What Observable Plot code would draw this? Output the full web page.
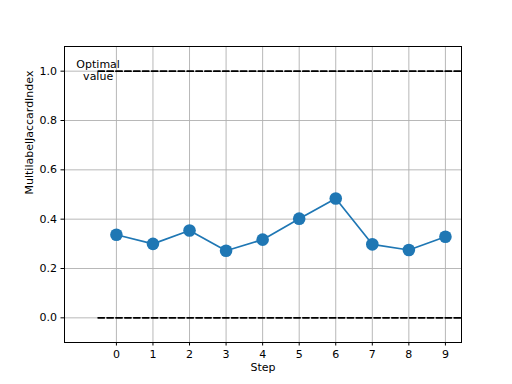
<!DOCTYPE html>
<html>
<head>
<meta charset="utf-8">
<script src="https://cdn.jsdelivr.net/npm/d3@7"></script>
<script src="https://cdn.jsdelivr.net/npm/@observablehq/plot@0.6"></script>
<style>
  html, body { margin: 0; padding: 0; background: #fff; }
  svg { display: block; }
</style>
</head>
<body>
<div id="chart"></div>
<script>
const steps = [0, 1, 2, 3, 4, 5, 6, 7, 8, 9];
const scores = [0.337, 0.300, 0.354, 0.272, 0.317, 0.402, 0.484, 0.298, 0.275, 0.329];
const optimalValue = 1.0;
const baselineValue = 0.0;
const refLineX = [-0.5, 9.5];
const xTicks = [0, 1, 2, 3, 4, 5, 6, 7, 8, 9];
const yTicks = [0.0, 0.2, 0.4, 0.6, 0.8, 1.0];
const xLabel = "Step";
const yLabel = "MultilabelJaccardIndex";
const annotation = "Optimal\nvalue";

const data = steps.map((s, i) => ({step: s, value: scores[i]}));
const refLines = [optimalValue, baselineValue].flatMap(v => refLineX.map(x => ({x, y: v, key: v})));

const chart = Plot.plot({
  width: 512,
  height: 384,
  marginLeft: 64,
  marginRight: 51,
  marginTop: 46,
  marginBottom: 42,
  style: {fontFamily: "DejaVu Sans", fontSize: "11px", background: "#fff", color: "#000"},
  x: {domain: [-1.42, 9.44], label: null},
  y: {domain: [-0.1, 1.1], label: null},
  marks: [
    Plot.gridX(xTicks, {stroke: "#b0b0b0", strokeOpacity: 1, strokeWidth: 0.9}),
    Plot.gridY(yTicks, {stroke: "#b0b0b0", strokeOpacity: 1, strokeWidth: 0.9}),
    Plot.axisX(xTicks, {tickSize: 3.5, tickPadding: 4, tickFormat: d => String(d), fontSize: 11, stroke: "#000"}),
    Plot.axisY(yTicks, {tickSize: 3.5, tickPadding: 4, tickFormat: d3.format(".1f"), fontSize: 11, stroke: "#000"}),
    Plot.line(refLines, {x: "x", y: "y", z: "key", stroke: "#000", strokeWidth: 1.7, strokeDasharray: "6.2,2.7", clip: true}),
    Plot.line(data, {x: "step", y: "value", stroke: "#1f77b4", strokeWidth: 1.7}),
    Plot.dot(data, {x: "step", y: "value", r: 6.3, fill: "#1f77b4", stroke: "none"}),
    Plot.text([annotation], {x: refLineX[0], y: optimalValue, dy: -1, text: d => d, fill: "#000", fontSize: 11, lineHeight: 1.1}),
    Plot.frame({stroke: "#000", strokeWidth: 1}),
    Plot.text([xLabel], {frameAnchor: "bottom", dy: 28, text: d => d, fontSize: 11, fill: "#000"}),
    Plot.text([yLabel], {frameAnchor: "left", dx: -35, rotate: -90, text: d => d, fontSize: 11, fill: "#000"})
  ]
});
document.getElementById("chart").appendChild(chart);
</script>
</body>
</html>
